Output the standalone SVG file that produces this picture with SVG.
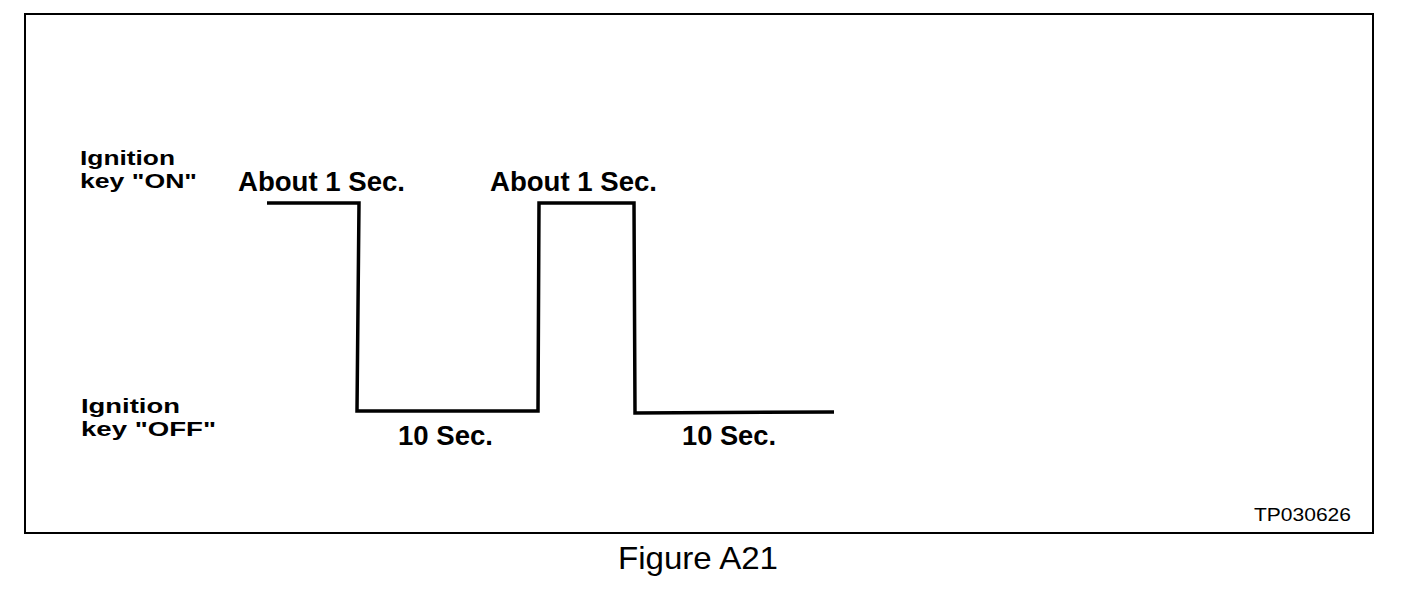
<svg xmlns="http://www.w3.org/2000/svg" width="1408" height="600" viewBox="0 0 1408 600">
<style>
.lbl{font-family:"Liberation Sans",Arial,sans-serif;font-weight:bold;font-size:20.5px;fill:#000}
.dur{font-family:"Liberation Sans",Arial,sans-serif;font-weight:bold;font-size:27px;fill:#000}
.ref{font-family:"Liberation Sans",Arial,sans-serif;font-size:19px;fill:#000}
.cap{font-family:"Liberation Sans",Arial,sans-serif;font-size:32px;fill:#000}
.wave{fill:none;stroke:#000;stroke-width:3.5;stroke-linejoin:miter}
</style>
<rect id="frame" x="25" y="14" width="1348" height="519" fill="#fff" stroke="#000" stroke-width="2"/>
<g id="connectors">
<polyline class="wave" points="267,203 359,203 357,411 538,411 539,203 634,203 635,413 834,412"/>
</g>
<g id="label-on">
<text class="lbl" x="80" y="165" textLength="95" lengthAdjust="spacingAndGlyphs">Ignition</text>
<text class="lbl" x="80" y="188" textLength="117" lengthAdjust="spacingAndGlyphs">key "ON"</text>
</g>
<g id="label-off">
<text class="lbl" x="81" y="413" textLength="99" lengthAdjust="spacingAndGlyphs">Ignition</text>
<text class="lbl" x="81" y="436" textLength="135" lengthAdjust="spacingAndGlyphs">key "OFF"</text>
</g>
<g id="pulse1">
<text class="dur" x="238" y="191" textLength="167" lengthAdjust="spacingAndGlyphs">About 1 Sec.</text>
</g>
<g id="pulse2">
<text class="dur" x="490" y="191" textLength="167" lengthAdjust="spacingAndGlyphs">About 1 Sec.</text>
</g>
<g id="off1">
<text class="dur" x="398" y="445" textLength="95" lengthAdjust="spacingAndGlyphs">10 Sec.</text>
</g>
<g id="off2">
<text class="dur" x="682" y="445" textLength="94" lengthAdjust="spacingAndGlyphs">10 Sec.</text>
</g>
<g id="refcode">
<text class="ref" x="1254" y="521" textLength="97" lengthAdjust="spacingAndGlyphs">TP030626</text>
</g>
<g id="caption">
<text class="cap" x="618" y="569" textLength="160" lengthAdjust="spacingAndGlyphs">Figure A21</text>
</g>
</svg>
